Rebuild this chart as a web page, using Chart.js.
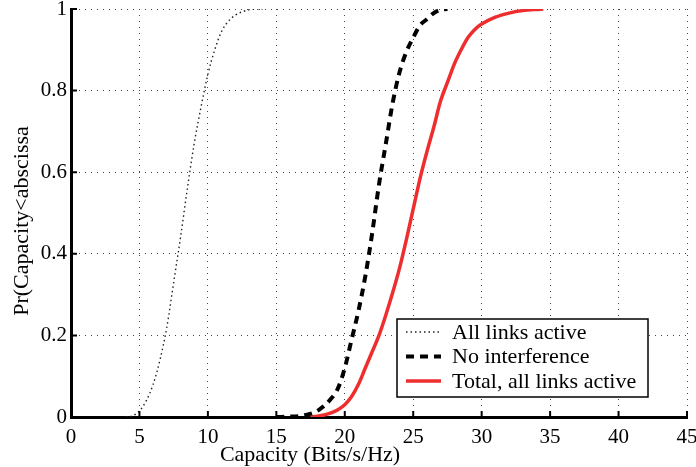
<!DOCTYPE html>
<html>
<head>
<meta charset="utf-8">
<script src="https://cdn.jsdelivr.net/npm/chart.js@4.4.1/dist/chart.umd.min.js"></script>
<style>
  html, body { margin: 0; padding: 0; background: #fff; }
  #wrap { width: 696px; height: 467px; }
</style>
</head>
<body>
<div id="wrap"><canvas id="cdfChart" width="696" height="467"></canvas></div>
<script>
// Capacity CDFs for three link scenarios
const xTicks = [0, 5, 10, 15, 20, 25, 30, 35, 40, 45];
const yTicks = [0, 0.2, 0.4, 0.6, 0.8, 1];

const allLinksX = [4, 4.5, 5, 5.5, 6, 6.5, 7, 7.5, 8, 8.5, 9, 9.5, 10, 10.5, 11, 11.5, 12, 12.5, 13, 13.5, 14];
const allLinksY = [0, 0.003, 0.015, 0.04, 0.08, 0.14, 0.22, 0.33, 0.44, 0.56, 0.67, 0.76, 0.84, 0.9, 0.945, 0.97, 0.985, 0.993, 0.998, 1, 1];

const noInterfX = [15, 16, 17, 18, 19, 19.5, 20, 20.5, 21, 21.5, 22, 22.5, 23, 23.5, 24, 24.5, 25, 25.5, 26, 26.5, 27, 27.5];
const noInterfY = [0, 0.001, 0.004, 0.015, 0.045, 0.07, 0.12, 0.19, 0.26, 0.345, 0.45, 0.57, 0.67, 0.77, 0.845, 0.895, 0.93, 0.96, 0.975, 0.99, 0.998, 1];

const totalX = [17.5, 18, 18.5, 19, 19.5, 20, 20.5, 21, 21.5, 22, 22.5, 23, 23.5, 24, 24.5, 25, 25.5, 26, 26.5, 27, 27.5, 28, 28.5, 29, 29.5, 30, 31, 32, 33, 34, 34.5];
const totalY = [0, 0.002, 0.005, 0.01, 0.018, 0.03, 0.05, 0.08, 0.12, 0.16, 0.2, 0.25, 0.305, 0.365, 0.435, 0.51, 0.585, 0.65, 0.71, 0.775, 0.82, 0.865, 0.9, 0.93, 0.95, 0.963, 0.98, 0.99, 0.996, 0.999, 1];

const seriesNames = ['All links active', 'No interference', 'Total, all links active'];
const xTitle = 'Capacity (Bits/s/Hz)';
const yTitle = 'Pr(Capacity<abscissa';

function toPoints(xs, ys) {
    return xs.map((x, i) => ({x: x, y: ys[i]}));
}

const serif = 'Liberation Serif, Times New Roman, serif';

// inward tick marks on the left and bottom axes
const innerTicks = {
    id: 'innerTicks',
    afterDraw(chart) {
        const ctx = chart.ctx;
        const xs = chart.scales.x, ys = chart.scales.y;
        const area = chart.chartArea;
        ctx.save();
        ctx.strokeStyle = '#000';
        ctx.lineWidth = 2;
        ctx.beginPath();
        xTicks.forEach(v => {
            const px = xs.getPixelForValue(v);
            ctx.moveTo(px, area.bottom);
            ctx.lineTo(px, area.bottom - 6);
        });
        yTicks.forEach(v => {
            const py = ys.getPixelForValue(v);
            ctx.moveTo(area.left, py);
            ctx.lineTo(area.left + 6, py);
        });
        ctx.stroke();
        ctx.restore();
    }
};

// axis titles
const axisTitles = {
    id: 'axisTitles',
    afterDraw(chart) {
        const ctx = chart.ctx;
        ctx.save();
        ctx.fillStyle = '#000';
        ctx.font = '22px ' + serif;
        ctx.textAlign = 'center';
        ctx.textBaseline = 'alphabetic';
        ctx.fillText(xTitle, 310, 461);
        ctx.translate(28, 221);
        ctx.rotate(-Math.PI / 2);
        ctx.fillText(yTitle, 0, 0);
        ctx.restore();
    }
};

// boxed legend in the lower right of the plot
const boxLegend = {
    id: 'boxLegend',
    afterDraw(chart) {
        const ctx = chart.ctx;
        const left = 397, top = 319, w = 251, h = 78;
        ctx.save();
        ctx.fillStyle = '#fff';
        ctx.fillRect(left, top, w, h);
        ctx.strokeStyle = '#000';
        ctx.lineWidth = 1.5;
        ctx.strokeRect(left, top, w, h);
        ctx.font = '22px ' + serif;
        ctx.textBaseline = 'middle';
        chart.data.datasets.forEach((ds, i) => {
            const y = top + 13 + i * 24.5;
            ctx.beginPath();
            ctx.strokeStyle = ds.borderColor;
            ctx.lineWidth = ds.borderWidth;
            ctx.setLineDash(ds.borderDash || []);
            ctx.moveTo(406, y);
            ctx.lineTo(441, y);
            ctx.stroke();
            ctx.setLineDash([]);
            ctx.fillStyle = '#000';
            ctx.fillText(ds.label, 452, y + 1);
        });
        ctx.restore();
    }
};

const ctx = document.getElementById('cdfChart').getContext('2d');
const cdfChart = new Chart(ctx, {
    type: 'line',
    data: {
        datasets: [{
            label: seriesNames[0],
            data: toPoints(allLinksX, allLinksY),
            borderColor: '#222',
            borderWidth: 1.4,
            borderDash: [1.5, 3],
            pointRadius: 0,
            cubicInterpolationMode: 'monotone'
        }, {
            label: seriesNames[1],
            data: toPoints(noInterfX, noInterfY),
            borderColor: '#000',
            borderWidth: 4,
            borderDash: [8, 6],
            pointRadius: 0,
            cubicInterpolationMode: 'monotone'
        }, {
            label: seriesNames[2],
            data: toPoints(totalX, totalY),
            borderColor: '#ee2e2e',
            borderWidth: 3.5,
            pointRadius: 0,
            cubicInterpolationMode: 'monotone'
        }]
    },
    options: {
        responsive: false,
        animation: false,
        layout: {
            padding: {top: 9, right: 9, left: 0, bottom: 0}
        },
        plugins: {
            legend: {display: false},
            tooltip: {enabled: false}
        },
        scales: {
            x: {
                type: 'linear',
                min: 0,
                max: 45,
                afterBuildTicks: (scale) => { scale.ticks = xTicks.map(v => ({value: v})); },
                afterFit: (scale) => {
                    scale.height = 50;
                    // let the end labels hang past the plot edge
                    scale.paddingLeft = 0;
                    scale.paddingRight = 0;
                },
                ticks: {
                    color: '#000',
                    font: {family: serif, size: 21},
                    padding: 8,
                    maxRotation: 0
                },
                grid: {
                    color: '#444',
                    lineWidth: 1,
                    drawTicks: false
                },
                border: {
                    display: true,
                    color: '#000',
                    width: 3,
                    dash: [1, 5]
                }
            },
            y: {
                type: 'linear',
                min: 0,
                max: 1,
                afterBuildTicks: (scale) => { scale.ticks = yTicks.map(v => ({value: v})); },
                afterFit: (scale) => {
                    scale.width = 71;
                    scale.paddingTop = 0;
                    scale.paddingBottom = 0;
                },
                ticks: {
                    color: '#000',
                    font: {family: serif, size: 21},
                    padding: 4,
                    callback: (v) => String(v)
                },
                grid: {
                    color: '#444',
                    lineWidth: 1,
                    drawTicks: false
                },
                border: {
                    display: true,
                    color: '#000',
                    width: 3,
                    dash: [1, 5]
                }
            }
        }
    },
    plugins: [innerTicks, axisTitles, boxLegend]
});
</script>
</body>
</html>
